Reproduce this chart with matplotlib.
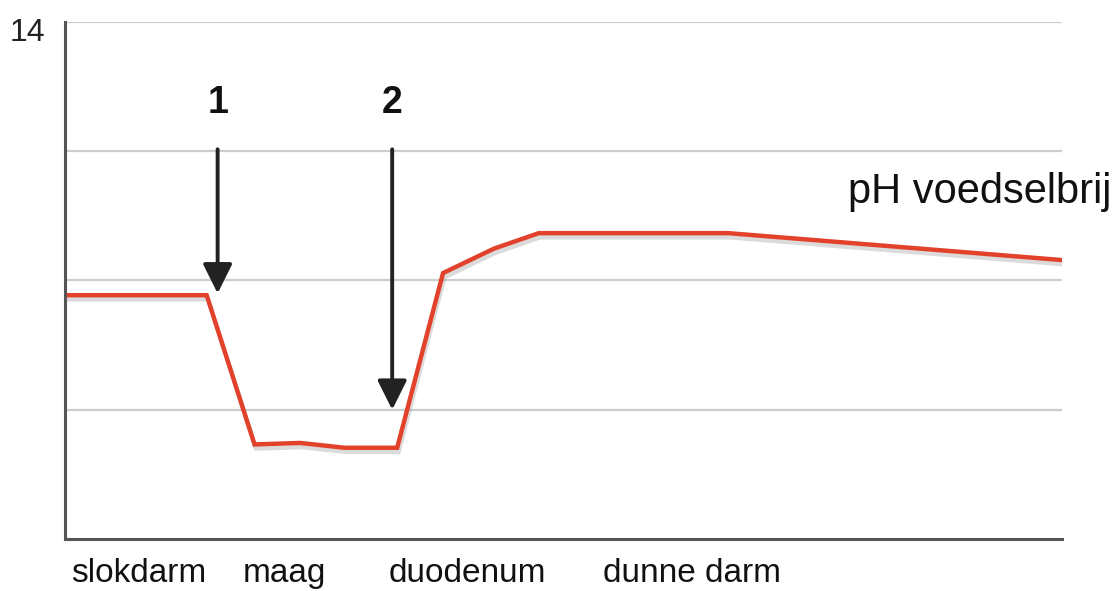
import matplotlib.pyplot as plt
import matplotlib.patheffects as pe

plt.rcParams['font.family'] = ['Liberation Sans', 'DejaVu Sans']

# pH van de voedselbrij langs het spijsverteringskanaal (x in willekeurige eenheden)
positie = [0, 142, 190, 236, 280, 333, 379, 430, 475, 665, 1000]
ph = [6.6, 6.6, 2.56, 2.6, 2.47, 2.47, 7.2, 7.86, 8.28, 8.28, 7.55]

organen = ['slokdarm', 'maag', 'duodenum', 'dunne darm']
organ_pos = [74, 220, 403, 629]

grid_ph = [3.5, 7, 10.5, 14]

# pijlen: (label, x, ph van de punt)
pijlen = [('1', 153, 6.65), ('2', 328, 3.5)]

fig = plt.figure(figsize=(11.17, 5.91), dpi=100)
ax = fig.add_axes([0.0582, 0.088, 0.893, 0.875])

ax.plot(positie, ph, color='#e2422b', linewidth=3.2, solid_joinstyle='miter',
        path_effects=[pe.SimpleLineShadow(offset=(1, -3), shadow_color='#999999', alpha=0.35),
                      pe.Normal()])

ax.set_xlim(0, 1000)
ax.set_ylim(0, 14)

for g in grid_ph:
    ax.axhline(g, color='#cccccc', linewidth=1.6, zorder=0)

for s in ['top', 'right']:
    ax.spines[s].set_visible(False)
for s in ['left', 'bottom']:
    ax.spines[s].set_color('#555555')
    ax.spines[s].set_linewidth(2.2)

ax.set_yticks([])
ax.set_xticks(organ_pos)
ax.set_xticklabels(organen, fontsize=24)
ax.tick_params(axis='x', length=0, pad=14, colors='#111111')

ax.text(-20, 13.7, '14', fontsize=23, ha='right', va='center', color='#222222')
ax.text(1049, 9.4, 'pH voedselbrij', fontsize=30, ha='right', va='center',
        color='#111111', clip_on=False)

for label, xp, tip in pijlen:
    ax.annotate('', xy=(xp, tip), xytext=(xp, 10.55),
                arrowprops=dict(arrowstyle='-|>,head_length=1.2,head_width=0.6',
                                color='#222222', lw=2.8, mutation_scale=15,
                                shrinkA=0, shrinkB=0))
    ax.text(xp, 11.8, label, fontsize=27, fontweight='bold', ha='center', va='center',
            color='#111111')

fig.savefig('out.png', dpi=100)
plt.close(fig)
